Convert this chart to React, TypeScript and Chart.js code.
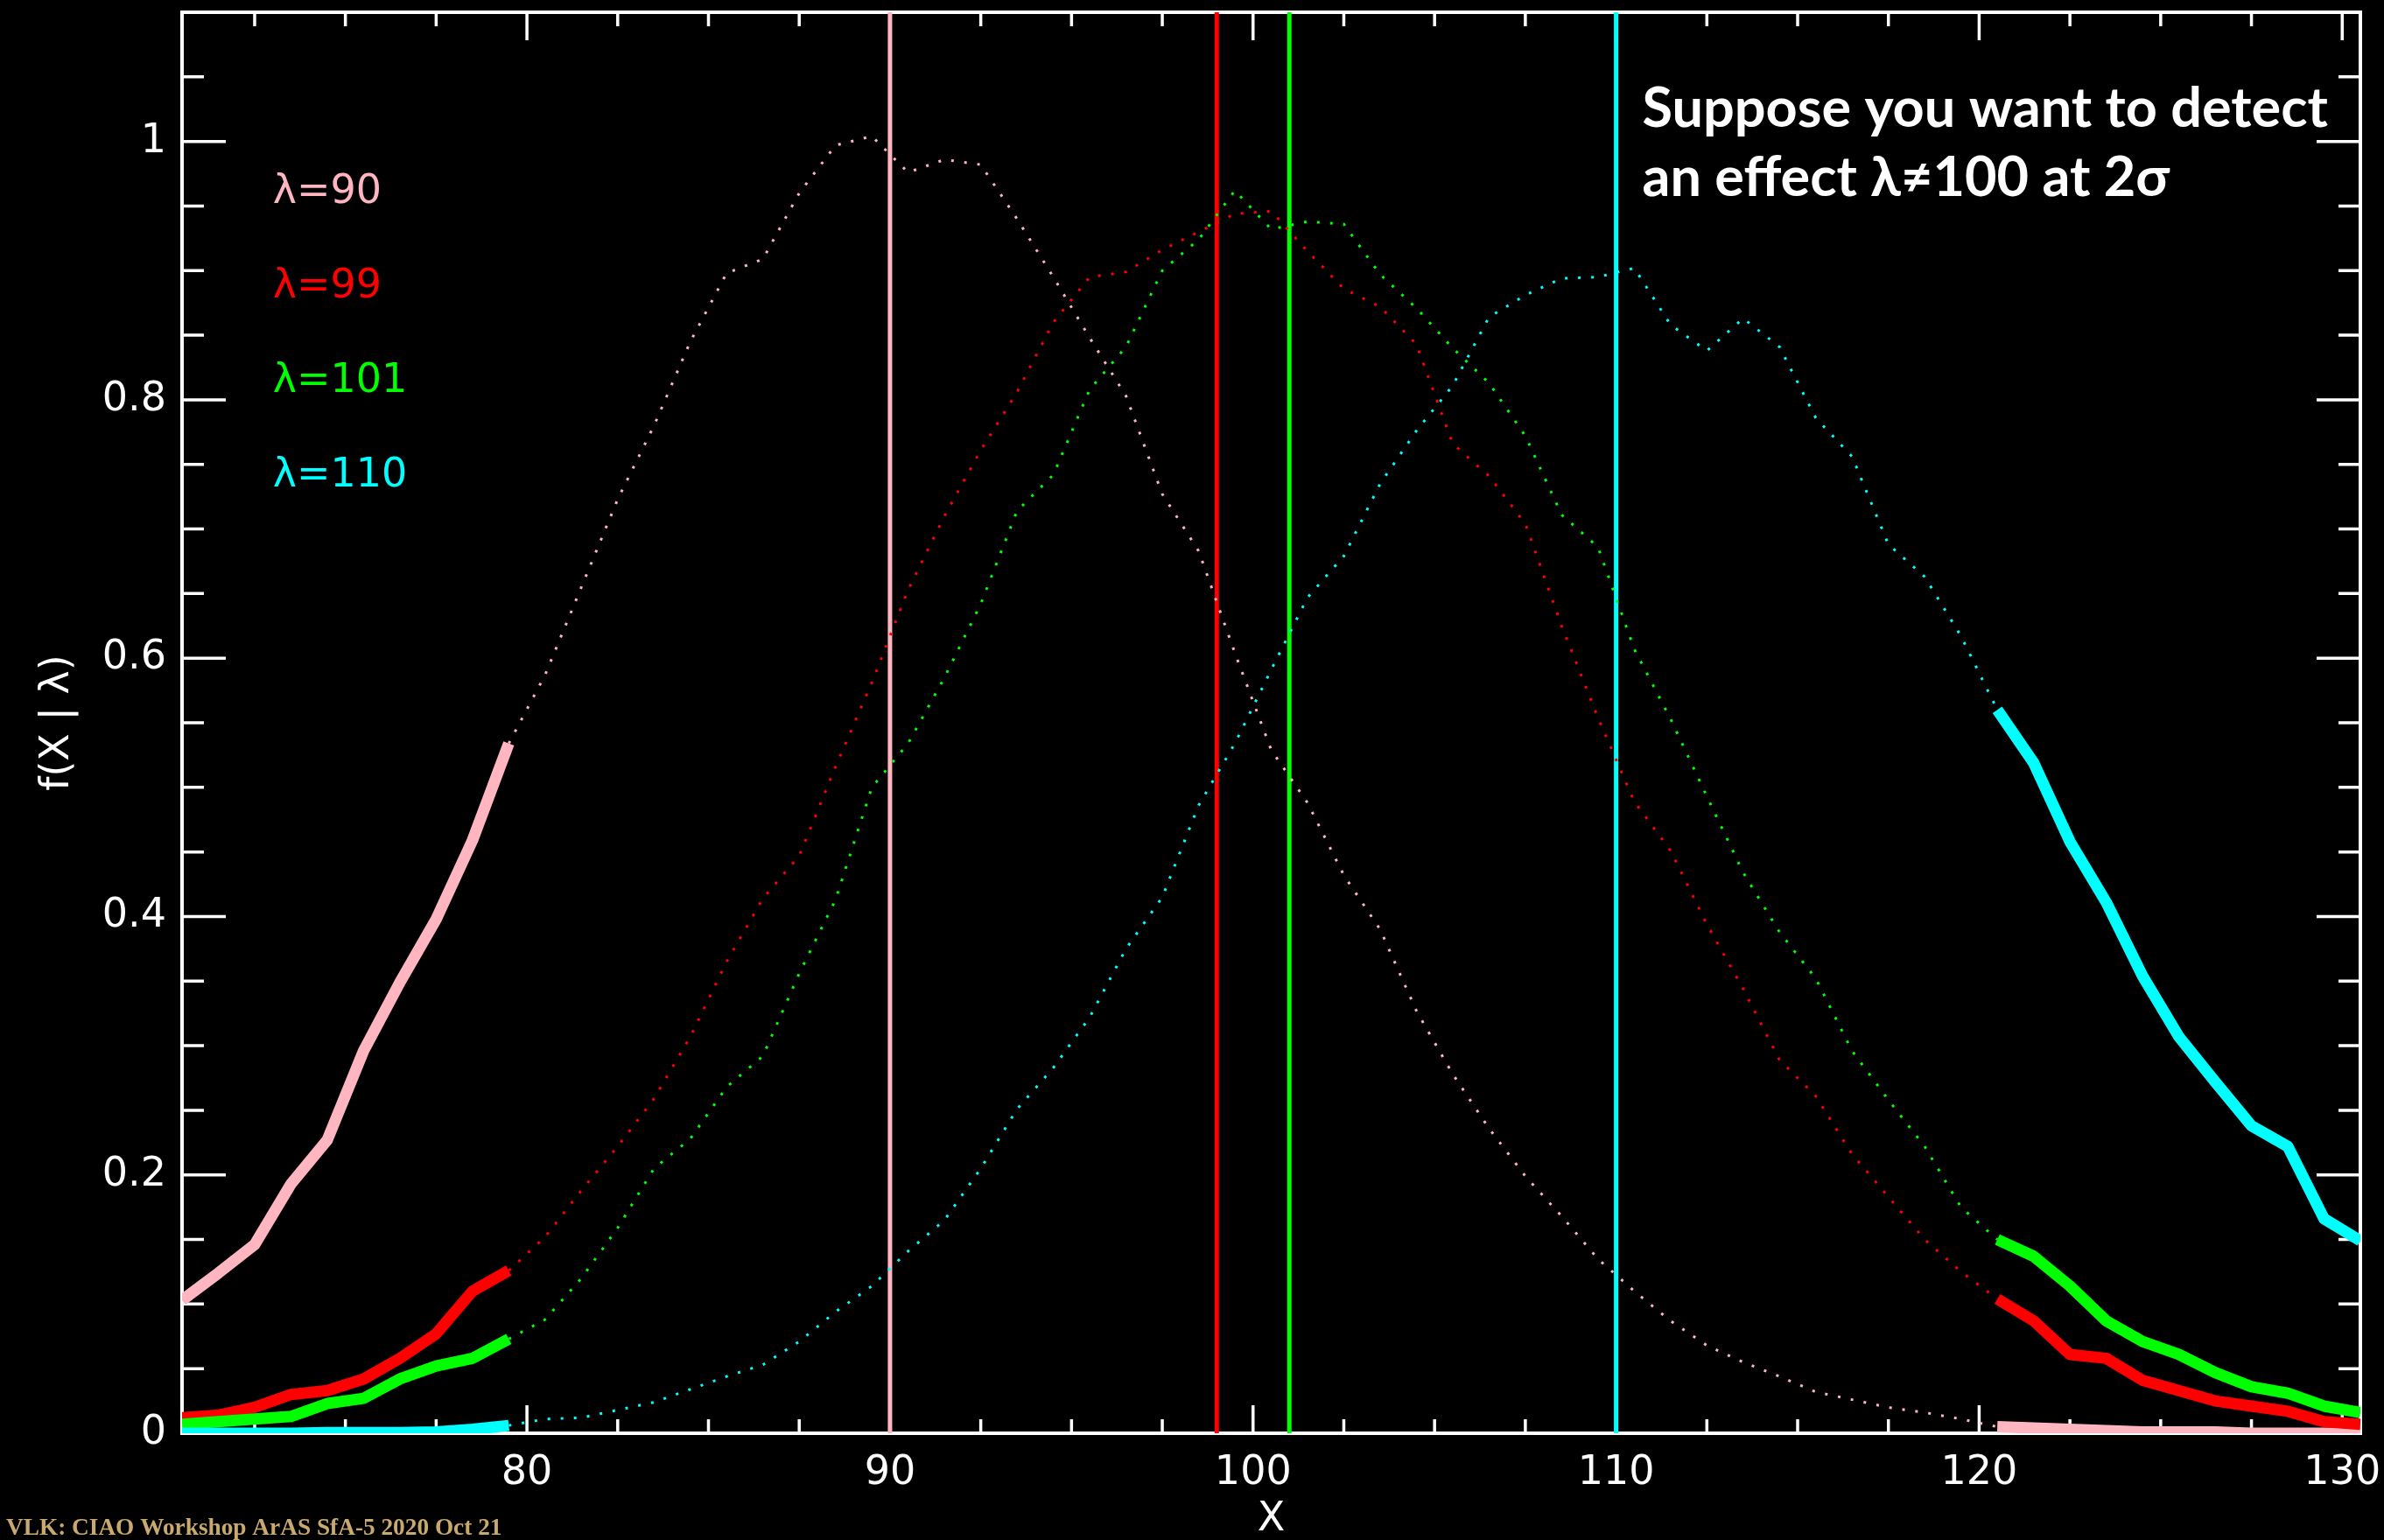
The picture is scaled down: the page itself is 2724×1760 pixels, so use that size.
import React, { useEffect, useRef } from 'react';
import { Chart, registerables } from 'chart.js';

Chart.register(...registerables);

// X values (bin centres)
const xValues = [
  70.5, 71.5, 72.5, 73.5, 74.5, 75.5, 76.5, 77.5, 78.5, 79.5,
  80.5, 81.5, 82.5, 83.5, 84.5, 85.5, 86.5, 87.5, 88.5, 89.5,
  90.5, 91.5, 92.5, 93.5, 94.5, 95.5, 96.5, 97.5, 98.5, 99.5,
  100.5, 101.5, 102.5, 103.5, 104.5, 105.5, 106.5, 107.5, 108.5, 109.5,
  110.5, 111.5, 112.5, 113.5, 114.5, 115.5, 116.5, 117.5, 118.5, 119.5,
  120.5, 121.5, 122.5, 123.5, 124.5, 125.5, 126.5, 127.5, 128.5, 129.5,
  130.5,
];

// f(X | lambda) for each lambda
const f90 = [
  0.103, 0.124, 0.146, 0.193, 0.227, 0.296, 0.349, 0.398, 0.459, 0.534,
  0.587, 0.655, 0.723, 0.780, 0.845, 0.898, 0.909, 0.960, 0.997, 1.004,
  0.976, 0.986, 0.982, 0.940, 0.895, 0.848, 0.803, 0.727, 0.683, 0.604,
  0.529, 0.488, 0.432, 0.390, 0.327, 0.278, 0.236, 0.199, 0.168, 0.135,
  0.110, 0.087, 0.068, 0.055, 0.044, 0.032, 0.026, 0.020, 0.016, 0.011,
  0.005, 0.004, 0.003, 0.002, 0.001, 0.001, 0.001, 0.0, 0.0, 0.0,
  0.0,
];
const f99 = [
  0.012, 0.014, 0.020, 0.030, 0.033, 0.042, 0.058, 0.077, 0.110, 0.126,
  0.152, 0.188, 0.222, 0.259, 0.307, 0.365, 0.414, 0.447, 0.516, 0.581,
  0.653, 0.710, 0.761, 0.806, 0.860, 0.895, 0.899, 0.916, 0.930, 0.944,
  0.946, 0.915, 0.886, 0.872, 0.843, 0.766, 0.741, 0.704, 0.625, 0.554,
  0.489, 0.451, 0.394, 0.344, 0.289, 0.261, 0.216, 0.183, 0.150, 0.125,
  0.104, 0.087, 0.061, 0.058, 0.041, 0.033, 0.025, 0.021, 0.017, 0.009,
  0.007,
];
const f101 = [
  0.007, 0.009, 0.011, 0.013, 0.023, 0.027, 0.042, 0.052, 0.058, 0.073,
  0.088, 0.120, 0.159, 0.205, 0.228, 0.268, 0.292, 0.356, 0.413, 0.500,
  0.534, 0.585, 0.642, 0.714, 0.742, 0.808, 0.841, 0.900, 0.924, 0.962,
  0.932, 0.938, 0.936, 0.897, 0.871, 0.840, 0.813, 0.772, 0.711, 0.686,
  0.607, 0.553, 0.493, 0.434, 0.388, 0.352, 0.296, 0.258, 0.222, 0.175,
  0.150, 0.137, 0.114, 0.087, 0.071, 0.061, 0.047, 0.036, 0.031, 0.021,
  0.016,
];
const f110 = [
  0.0, 0.0, 0.0, 0.0, 0.0005, 0.0005, 0.0005, 0.001, 0.003, 0.006,
  0.011, 0.012, 0.018, 0.024, 0.034, 0.044, 0.053, 0.071, 0.094, 0.114,
  0.141, 0.165, 0.205, 0.251, 0.283, 0.322, 0.375, 0.415, 0.486, 0.534,
  0.591, 0.647, 0.679, 0.735, 0.776, 0.811, 0.864, 0.881, 0.894, 0.895,
  0.902, 0.858, 0.838, 0.863, 0.841, 0.786, 0.756, 0.688, 0.663, 0.617,
  0.560, 0.519, 0.458, 0.411, 0.354, 0.307, 0.272, 0.238, 0.222, 0.166,
  0.149,
];

const allSeries = [f90, f99, f101, f110];
const lambdaValues = [90, 99, 101, 110];
const lambdaLabels = ['λ=90', 'λ=99', 'λ=101', 'λ=110'];
const seriesColors = ['#ffb6c1', '#ff0000', '#00ff00', '#00ffff'];

// 2-sigma acceptance bounds for lambda = 100
const lowerBound = 80;
const upperBound = 120;

const xMin = 70.5;
const xMax = 130.5;
const yMin = 0;
const yMax = 1.1;
const xMajorTicks = [80, 90, 100, 110, 120, 130];
const xMinorTicks = [72.5, 75, 77.5, 82.5, 85, 87.5, 92.5, 95, 97.5, 102.5, 105, 107.5, 112.5, 115, 117.5, 122.5, 125, 127.5];
const yMajorTicks = [0, 0.2, 0.4, 0.6, 0.8, 1.0];
const yMinorTicks = [0.05, 0.1, 0.15, 0.25, 0.3, 0.35, 0.45, 0.5, 0.55, 0.65, 0.7, 0.75, 0.85, 0.9, 0.95, 1.05];

const annotationLines = ['Suppose you want to detect', 'an effect λ≠100 at 2σ'];
const footerText = 'VLK: CIAO Workshop ArAS SfA-5 2020 Oct 21';

const IDL_FONT = '"DejaVu Sans", sans-serif';

const backgroundPlugin = {
  id: 'bgBlack',
  beforeDraw(chart: any) {
    const { ctx } = chart;
    ctx.save();
    ctx.fillStyle = '#000';
    ctx.fillRect(0, 0, chart.width, chart.height);
    ctx.restore();
  },
};

const boxPlugin = {
  id: 'idlBox',
  beforeDatasetsDraw(chart: any) {
    const { ctx, chartArea: a, scales } = chart;
    const xs = scales.x;
    const ys = scales.y;
    ctx.save();
    ctx.strokeStyle = '#ffffff';
    ctx.lineWidth = 4;
    ctx.strokeRect(a.left, a.top, a.right - a.left, a.bottom - a.top);
    ctx.lineWidth = 3.5;
    ctx.beginPath();
    const xTick = (v: number, len: number) => {
      const p = xs.getPixelForValue(v);
      ctx.moveTo(p, a.bottom);
      ctx.lineTo(p, a.bottom - len);
      ctx.moveTo(p, a.top);
      ctx.lineTo(p, a.top + len);
    };
    const yTick = (v: number, len: number) => {
      const p = ys.getPixelForValue(v);
      ctx.moveTo(a.left, p);
      ctx.lineTo(a.left + len, p);
      ctx.moveTo(a.right, p);
      ctx.lineTo(a.right - len, p);
    };
    xMajorTicks.forEach((v) => xTick(v, 32));
    xMinorTicks.forEach((v) => xTick(v, 16));
    yMajorTicks.forEach((v) => yTick(v, 50));
    yMinorTicks.forEach((v) => yTick(v, 25));
    ctx.stroke();
    ctx.restore();
  },
};

const textPlugin = {
  id: 'texts',
  afterDraw(chart: any) {
    const { ctx, scales } = chart;
    const xs = scales.x;
    const ys = scales.y;
    ctx.save();
    // legend labels
    ctx.font = `46px ${IDL_FONT}`;
    ctx.textAlign = 'left';
    ctx.textBaseline = 'middle';
    const legendX = xs.getPixelForValue(73);
    const legendY = [0.9605, 0.8875, 0.814, 0.741];
    lambdaLabels.forEach((t, i) => {
      ctx.fillStyle = seriesColors[i];
      ctx.fillText(t, legendX, ys.getPixelForValue(legendY[i]));
    });
    // annotation
    ctx.fillStyle = '#ffffff';
    ctx.font = 'bold 63px Lato, "Open Sans", sans-serif';
    ctx.textBaseline = 'alphabetic';
    const ax = xs.getPixelForValue(110.72);
    ctx.fillText(annotationLines[0], ax, ys.getPixelForValue(1.0115));
    ctx.fillText(annotationLines[1], ax, ys.getPixelForValue(0.958));
    // footer
    ctx.fillStyle = '#c9a96c';
    ctx.font = 'bold 27.3px "Liberation Serif", serif';
    ctx.fillText(footerText, 7, 1754);
    ctx.restore();
  },
};

export default function App() {
  const canvasRef = useRef<HTMLCanvasElement>(null);

  useEffect(() => {
    document.body.style.margin = '0';
    document.body.style.background = '#000';
    const canvas = canvasRef.current;
    if (!canvas) return;

    const datasets: any[] = [];
    // thick segments (outside the acceptance region)
    allSeries.forEach((series, i) => {
      const pts = xValues.map((x, k) => ({ x, y: series[k] }));
      datasets.push({
        label: `${lambdaLabels[i]} low`,
        data: pts.filter((p) => p.x < lowerBound),
        borderColor: seriesColors[i],
        borderWidth: 13,
        borderCapStyle: 'butt',
        borderJoinStyle: 'round',
        pointRadius: 0,
        tension: 0,
        order: 4 - i,
      });
      datasets.push({
        label: `${lambdaLabels[i]} high`,
        data: pts.filter((p) => p.x > upperBound),
        borderColor: seriesColors[i],
        borderWidth: 13,
        borderCapStyle: 'butt',
        borderJoinStyle: 'round',
        pointRadius: 0,
        tension: 0,
        order: 4 - i,
      });
    });
    // dotted segments (inside the acceptance region)
    allSeries.forEach((series, i) => {
      const pts = xValues.map((x, k) => ({ x, y: series[k] }));
      datasets.push({
        label: `${lambdaLabels[i]} mid`,
        data: pts.filter((p) => p.x >= lowerBound - 0.5 && p.x <= upperBound + 0.5),
        borderColor: seriesColors[i],
        borderWidth: 3,
        borderDash: [3, 12],
        borderCapStyle: 'butt',
        pointRadius: 0,
        tension: 0,
        order: 20 - i,
      });
    });
    // vertical lambda markers
    lambdaValues.forEach((lam, i) => {
      datasets.push({
        label: `line ${lam}`,
        data: [
          { x: lam, y: yMin },
          { x: lam, y: yMax },
        ],
        borderColor: seriesColors[i],
        borderWidth: 5,
        pointRadius: 0,
        order: 40 - i,
      });
    });

    const chart = new Chart(canvas, {
      type: 'line',
      data: { datasets },
      options: {
        responsive: false,
        animation: false,
        devicePixelRatio: 1,
        events: [],
        layout: { padding: { left: 0, top: 14, right: 27, bottom: 0 } },
        plugins: {
          legend: { display: false },
          tooltip: { enabled: false },
          title: { display: false },
        },
        scales: {
          x: {
            type: 'linear',
            min: xMin,
            max: xMax,
            afterBuildTicks: (s: any) => {
              s.ticks = xMajorTicks.map((v) => ({ value: v }));
            },
            afterFit: (s: any) => {
              s.height = 122;
              s.paddingLeft = 0;
              s.paddingRight = 0;
            },
            grid: { display: false, drawTicks: false },
            border: { display: false },
            ticks: {
              color: '#ffffff',
              font: { family: IDL_FONT, size: 46 },
              padding: 18,
              autoSkip: false,
              maxRotation: 0,
              callback: (v: any) => String(v),
            },
            title: {
              display: true,
              text: 'X',
              color: '#ffffff',
              font: { family: IDL_FONT, size: 46, lineHeight: 1 },
              padding: { top: 0, bottom: 0 },
            },
          },
          y: {
            type: 'linear',
            min: yMin,
            max: yMax,
            afterBuildTicks: (s: any) => {
              s.ticks = yMajorTicks.map((v) => ({ value: v }));
            },
            afterFit: (s: any) => {
              s.width = 208;
              s.paddingTop = 0;
              s.paddingBottom = 0;
            },
            grid: { display: false, drawTicks: false },
            border: { display: false },
            ticks: {
              color: '#ffffff',
              font: { family: IDL_FONT, size: 46 },
              padding: 18,
              autoSkip: false,
              callback: (v: any) => (v === 0 ? '0' : v === 1 ? '1' : Number(v).toFixed(1)),
            },
            title: {
              display: true,
              text: 'f(X | λ)',
              color: '#ffffff',
              font: { family: IDL_FONT, size: 46, lineHeight: 1 },
              padding: { top: 43, bottom: 0 },
            },
          },
        },
      } as any,
      plugins: [backgroundPlugin, boxPlugin, textPlugin],
    });

    return () => chart.destroy();
  }, []);

  return (
    <div style={{ width: 2724, height: 1760, background: '#000' }}>
      <canvas ref={canvasRef} width={2724} height={1760} style={{ display: 'block', width: 2724, height: 1760 }} />
    </div>
  );
}
